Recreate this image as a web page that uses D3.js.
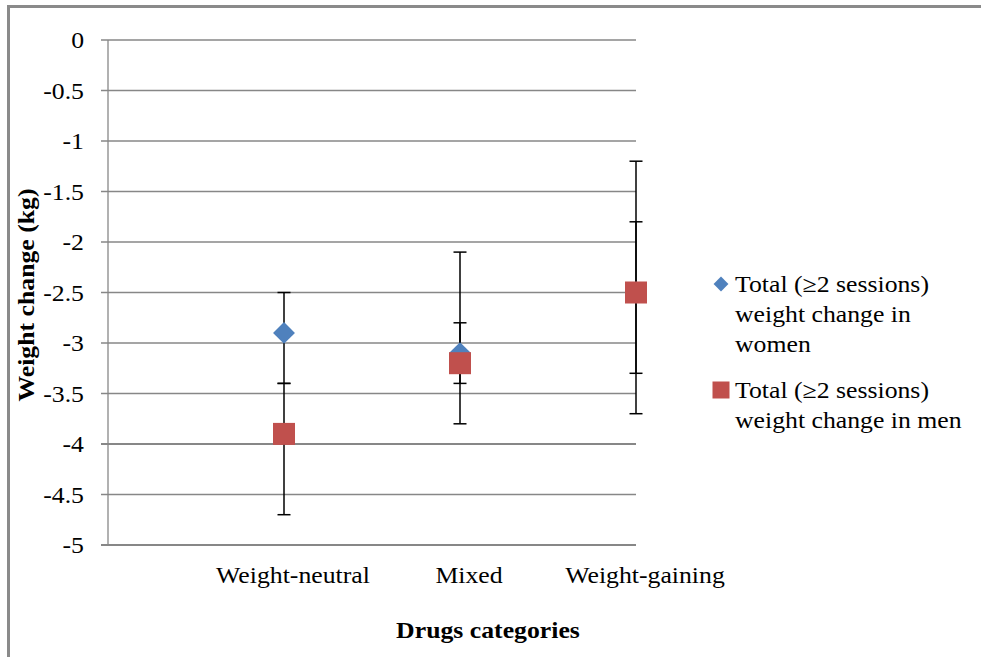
<!DOCTYPE html>
<html>
<head>
<meta charset="UTF-8">
<script src="https://d3js.org/d3.v7.min.js"></script>
<style>
  body { margin: 0; background: #fff; overflow: hidden; }
  text { font-family: "Liberation Serif", "Times New Roman", serif; fill: #000; }
</style>
</head>
<body>
<div id="chart"></div>
<script>
const categories = ["Weight-neutral", "Mixed", "Weight-gaining"];
const yTicks = [0, -0.5, -1, -1.5, -2, -2.5, -3, -3.5, -4, -4.5, -5];

const women = [-2.9, -3.1, -2.5];
const womenHigh = [-2.5, -2.8, -1.8];
const womenLow = [-3.4, -3.4, -3.3];

const men = [-3.9, -3.2, -2.5];
const menHigh = [-3.4, -2.1, -1.2];
const menLow = [-4.7, -3.8, -3.7];

const legendLabels = [
  ["Total (\u22652 sessions)", "weight change in", "women"],
  ["Total (\u22652 sessions)", "weight change in men"]
];

const W = 981, H = 657;
const SX = 1.12; // text runs a little wider than Liberation Serif
const blue = "#4F81BD", red = "#C0504D", grid = "#878787";

const svg = d3.select("#chart").append("svg")
  .attr("width", W).attr("height", H)
  .style("display", "block");

// outer frame (only left and top edges fall inside the picture)
svg.append("path")
  .attr("d", `M8.5,${H} V6.5 H${W}`)
  .attr("fill", "none").attr("stroke", "#8a8a8a").attr("stroke-width", 3);

const x = d3.scaleLinear().domain([0, 3]).range([108, 636]);
const y = d3.scaleLinear().domain([-5, 0]).range([545, 40]);

function label(g, txt, px, py, opts = {}) {
  const rot = opts.rotate || 0;
  return g.append("text")
    .attr("transform", `translate(${px},${py}) rotate(${rot}) scale(${SX},1)`)
    .attr("text-anchor", opts.anchor || "start")
    .style("font-size", (opts.size || 23) + "px")
    .style("font-weight", opts.bold ? "bold" : "normal")
    .text(txt);
}

// gridlines + y ticks
const gy = svg.append("g");
yTicks.forEach(t => {
  const thick = t === -5 || t === -4;
  gy.append("line")
    .attr("x1", 101).attr("x2", x(3))
    .attr("y1", y(t)).attr("y2", y(t))
    .attr("stroke", grid).attr("stroke-width", thick ? 2.2 : 1.3);
  label(gy, String(t), 84, y(t) + 8, { anchor: "end" });
});
gy.append("line")
  .attr("x1", x(0)).attr("x2", x(0))
  .attr("y1", y(0)).attr("y2", y(-5))
  .attr("stroke", grid).attr("stroke-width", 1.3);

// category labels
categories.forEach((c, i) => {
  label(svg, c, x(i + 1) + 9, 583, { anchor: "middle" });
});

// axis titles
label(svg, "Drugs categories", 488, 638, { anchor: "middle", bold: true, size: 23 });
label(svg, "Weight change (kg)", 34, 295, { anchor: "middle", bold: true, size: 23, rotate: -90 });

// error bars
const errs = [
  { high: womenHigh, low: womenLow },
  { high: menHigh, low: menLow }
];
const ge = svg.append("g").attr("stroke", "#000").attr("stroke-width", 1.5);
errs.forEach(e => {
  categories.forEach((c, i) => {
    const cx = x(i + 1);
    ge.append("line").attr("x1", cx).attr("x2", cx)
      .attr("y1", y(e.high[i])).attr("y2", y(e.low[i]));
    [e.high[i], e.low[i]].forEach(v => {
      ge.append("line").attr("x1", cx - 6.5).attr("x2", cx + 6.5)
        .attr("y1", y(v)).attr("y2", y(v));
    });
  });
});

// markers
svg.append("g").selectAll("path")
  .data(women)
  .join("path")
  .attr("d", d3.symbol().type(d3.symbolSquare).size(15.5 * 15.5))
  .attr("transform", (d, i) => `translate(${x(i + 1)},${y(d)}) rotate(45)`)
  .attr("fill", blue);

svg.append("g").selectAll("rect")
  .data(men)
  .join("rect")
  .attr("x", (d, i) => x(i + 1) - 11)
  .attr("y", d => y(d) - 11)
  .attr("width", 22).attr("height", 22)
  .attr("fill", red);

// legend
const lg = svg.append("g");
lg.append("path")
  .attr("d", d3.symbol().type(d3.symbolSquare).size(10.5 * 10.5))
  .attr("transform", "translate(721,284) rotate(45)")
  .attr("fill", blue);
legendLabels[0].forEach((t, j) => label(lg, t, 735, 292 + j * 30));

lg.append("rect")
  .attr("x", 712.5).attr("y", 381.5).attr("width", 17).attr("height", 17)
  .attr("fill", red);
legendLabels[1].forEach((t, j) => label(lg, t, 735, 398 + j * 30));
</script>
</body>
</html>
